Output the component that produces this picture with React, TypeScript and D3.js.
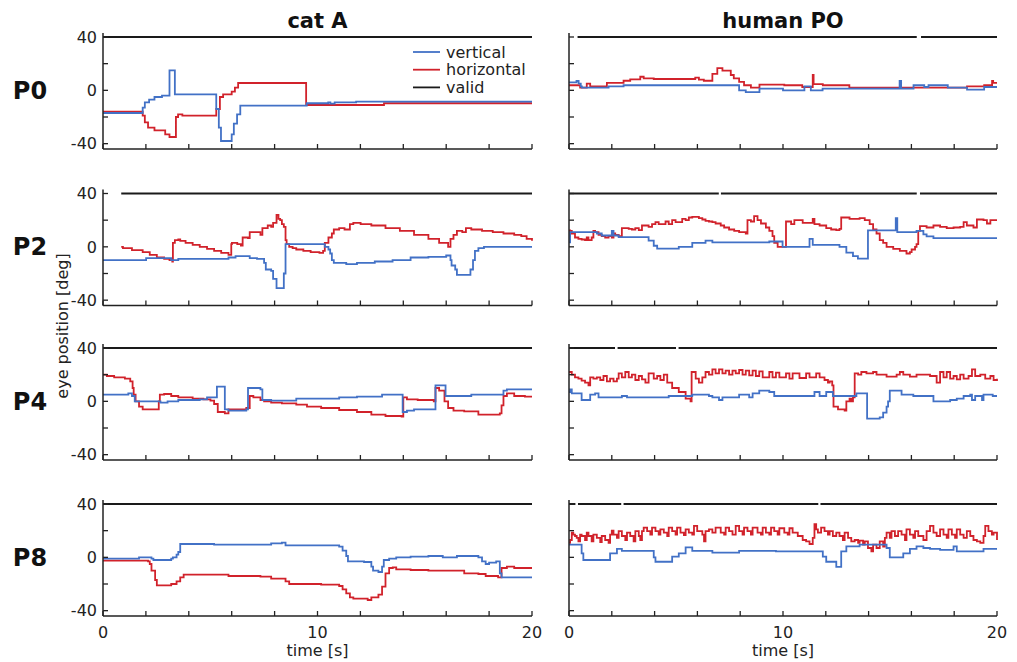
import React, { useEffect, useRef } from 'react';
import * as d3 from 'd3';

type Pt = [number, number];

const COLUMN_TITLES = ['cat A', 'human PO'];
const ROW_LABELS = ['P0', 'P2', 'P4', 'P8'];
const Y_TICKS = [-40, -20, 0, 20, 40];
const Y_TICK_LABELS = [40, 0, -40];
const X_TICKS = [0, 2, 4, 6, 8, 10, 12, 14, 16, 18, 20];
const X_TICK_LABELS = [0, 10, 20];
const LEGEND = [
    { label: 'vertical', color: '#4271c6' },
    { label: 'horizontal', color: '#d1222b' },
    { label: 'valid', color: '#1a1a1a' },
];

// time [s], eye position [deg] (sample and hold, drawn as steps)
const P0_CAT_V: Pt[] = [[0, -17], [1.85, -13], [1.95, -9], [2.15, -7], [2.4, -5], [2.75, -4], [3.1, 15], [3.35, -3], [5.28, -14], [5.4, -28], [5.5, -38], [6.0, -33], [6.1, -25], [6.25, -18], [6.4, -11.5], [9.5, -9.7], [10.5, -9], [10.6, -10], [10.8, -9], [11.8, -8.5], [20, -8.5]];
const P0_CAT_H: Pt[] = [[0, -16], [1.85, -19], [1.95, -24], [2.1, -28], [2.4, -30], [2.9, -33], [3.1, -35], [3.4, -20], [3.5, -18], [3.7, -19], [5.28, -14], [5.45, -5], [5.6, -3], [6.0, -1], [6.15, 2], [6.3, 5.5], [9.47, -11], [13.1, -9.7], [20, -9.7]];
const P0_CAT_VALID: Pt[] = [[0, 20]];

const P0_HUM_V: Pt[] = [[0, 6], [0.35, 7], [0.45, 5], [0.55, 3], [0.6, 2], [1.85, 3], [2.55, 3.8], [7.95, 0], [8.26, -1.3], [8.9, 1.3], [10, 0], [11, 3], [11.3, 0], [11.85, 1.3], [15.45, 7], [15.52, 1.3], [16.1, 3.8], [16.6, 2.5], [16.8, 3.8], [17.7, 2], [18.6, 0.5], [19.4, 2.5], [20, 2.5]];
const P0_HUM_H: Pt[] = [[0, 3.8], [0.52, 2], [0.83, 5], [0.99, 3], [1.77, 5.6], [2.55, 7.2], [2.86, 8.2], [3.33, 10.2], [3.49, 9], [3.96, 8.5], [5.9, 9.5], [6.07, 8], [6.3, 7.2], [6.7, 12.3], [6.93, 16.6], [7.17, 14.8], [7.56, 11.5], [7.7, 9], [7.95, 6.4], [8.18, 3.8], [8.5, 2], [8.9, 4.3], [10.06, 3.8], [10.9, 2.5], [11.39, 11.5], [11.43, 4.6], [11.86, 3.8], [13.1, 2], [18.6, 3], [19.4, 3.8], [19.77, 7], [19.82, 5.6], [20, 5.6]];
const P0_HUM_VALID: Pt[] = [[0.4, 16.25], [16.45, 20]];

const P2_CAT_V: Pt[] = [[0, -10], [2.01, -8.5], [3.18, -10], [3.51, -9], [5.85, -8], [6.18, -7], [6.84, -8.5], [7.18, -9], [7.51, -12], [7.59, -17], [7.84, -18], [7.93, -24], [8.09, -31], [8.43, -20], [8.51, 2], [10.34, 0], [10.51, -2], [10.59, -5], [10.67, -10], [10.76, -12], [11.34, -13], [11.84, -12], [12.67, -11], [13.5, -10], [14.34, -8], [15.17, -7.5], [16, -6.5], [16.2, -10], [16.25, -14], [16.42, -17], [16.5, -21], [17.13, -17], [17.25, -10], [17.34, -3], [17.5, -1], [17.76, 0], [20, 0]];
const P2_CAT_H: Pt[] = [[0.85, 0], [0.93, -1], [1.35, -2.5], [1.85, -4], [2.18, -6], [2.51, -8], [2.85, -9], [3.1, -10], [3.23, -11], [3.26, 3], [3.35, 5], [3.51, 5.5], [3.6, 4.5], [3.85, 3], [4.18, 1.5], [4.51, 0], [4.85, -1.5], [5.18, -3], [5.51, -4.5], [5.85, -6], [5.98, 2], [6.01, 3], [6.26, 2], [6.43, 1], [6.51, 7], [6.76, 6.5], [6.84, 11], [7.34, 9], [7.43, 14], [7.68, 16], [7.84, 15], [7.93, 18], [8.09, 24], [8.18, 21], [8.26, 20], [8.34, 17], [8.43, 15], [8.51, 5], [8.56, 2], [8.68, 0], [8.84, -1], [9.01, -2], [9.34, -3], [9.68, -4], [10.09, -4.5], [10.26, -3], [10.34, 3], [10.51, 7], [10.67, 10], [10.76, 13], [11.01, 14], [11.26, 13], [11.51, 17], [11.67, 18], [12.01, 17], [12.51, 16], [13.17, 14], [13.84, 12], [14.5, 9], [15.17, 6], [15.67, 3], [16.09, 0], [16.2, 6], [16.34, 9], [16.5, 12], [16.75, 11], [16.92, 14], [17.17, 13], [17.67, 12], [18.17, 11], [18.67, 10], [19.17, 9], [19.5, 8], [19.75, 6], [20, 4.5]];
const P2_CAT_VALID: Pt[] = [[0.85, 20]];

const P2_HUM_V: Pt[] = [[0, 3.4], [0.05, 11], [1.3, 10], [1.53, 8.5], [2.0, 12], [2.08, 8.5], [2.32, 7.3], [3.72, 4.7], [3.96, 0.8], [4.12, -1.3], [5.13, 0], [5.76, 3], [6.38, 4.7], [6.7, 3.4], [9.36, 4], [9.98, 0], [11.24, 6], [11.39, 1.5], [12.64, 0], [12.96, -4.4], [13.27, -7], [13.5, -8.8], [13.97, 12.4], [15.27, 21.5], [15.34, 11], [16.24, 12], [16.56, 9.3], [16.71, 7.8], [17.03, 6.5], [20, 6.5]];
const P2_HUM_H: Pt[] = [[0, 12.4], [0.05, 12], [0.13, 10], [0.28, 7], [0.44, 6], [0.59, 5.5], [0.75, 5], [0.83, 7], [0.91, 5], [1.06, 7], [1.14, 12], [1.22, 11], [1.38, 9], [1.53, 8], [1.69, 7], [1.85, 8], [2.0, 7], [2.08, 10], [2.16, 9], [2.32, 8], [2.47, 14], [2.79, 13.5], [2.94, 13], [3.1, 14], [3.26, 12.5], [3.41, 16], [3.72, 15], [3.88, 17], [4.04, 18.5], [4.19, 17], [4.51, 19], [4.66, 17], [4.82, 20], [4.98, 18.5], [5.29, 21], [5.45, 20], [5.6, 22], [5.76, 22.5], [6.07, 21.5], [6.23, 20.5], [6.38, 19.5], [6.54, 19], [6.7, 18.5], [6.85, 17.5], [7.09, 16], [7.25, 14.5], [7.48, 13], [7.72, 12], [7.95, 11], [8.26, 10], [8.34, 20], [8.5, 19], [8.65, 23], [8.81, 20], [8.97, 17.5], [9.2, 14.5], [9.36, 12], [9.51, 8], [9.59, 3], [9.75, 0], [10.14, 19], [10.38, 17], [10.53, 20], [10.92, 18], [11.39, 21], [11.47, 17], [11.71, 16], [12.02, 14], [12.25, 13], [12.49, 12.5], [12.64, 13.5], [12.72, 22], [13.11, 21], [13.58, 21.5], [13.82, 20], [14.05, 17], [14.21, 13], [14.37, 10], [14.52, 5], [14.68, 3], [14.84, 0], [15.15, -1.5], [15.46, -3], [15.77, -5], [15.93, -4], [16.01, -2], [16.17, 0], [16.24, 2], [16.32, 12], [16.4, 15.5], [16.71, 14.5], [17.03, 16], [17.34, 15], [17.65, 14], [17.97, 14.5], [18.28, 15], [18.44, 18.5], [18.59, 16], [18.9, 14.5], [19.06, 20.5], [19.37, 20], [19.53, 17.5], [19.69, 20], [20, 20]];
const P2_HUM_VALID: Pt[] = [[0, 7.0], [7.1, 16.25], [16.4, 20]];

const P4_CAT_V: Pt[] = [[0, 5], [1.18, 6], [1.35, 4], [1.48, 0], [2.68, -1], [3.01, 0], [3.51, 1], [4.51, 1.5], [4.85, 3], [5.31, 11], [5.68, -6], [5.85, -7], [6.68, -6], [6.76, 10], [7.34, 9], [7.43, 1], [7.84, 0.5], [9.01, 2], [11.01, 3], [11.84, 3.5], [13.01, 5], [13.97, -8], [14.17, -7], [14.5, -6], [15.5, 12], [15.97, 4], [17.17, 5], [18.67, 8], [18.83, 9], [20, 9]];
const P4_CAT_H: Pt[] = [[0, 20], [0.18, 19], [0.52, 18], [1.02, 17], [1.27, 15], [1.38, 10], [1.43, 5], [1.52, 0], [1.68, -4], [1.85, -6], [2.6, 0], [2.65, 5], [2.85, 5.5], [3.18, 4], [3.51, 3], [4.18, 2], [4.68, 1.5], [5.01, 0.5], [5.18, -2], [5.35, -8], [5.68, -9], [5.85, -6], [6.68, -5], [6.84, 4], [7.01, 3], [7.34, 1], [7.51, 0], [7.84, -1], [8.34, -1.5], [9.01, -2.5], [9.51, -4], [10.17, -5], [11.01, -6.5], [11.84, -8], [12.51, -10], [13.17, -11], [13.92, -11.5], [14.0, 3], [14.17, 1.5], [14.67, 1], [15.42, 0], [15.5, 10], [15.67, 8], [15.92, 0], [16.09, -5], [16.34, -7], [16.84, -7.5], [17.5, -10], [18.5, -9], [18.58, -3], [18.67, 4], [18.83, 6], [19.17, 4], [19.67, 3.5], [20, 3.5]];
const P4_CAT_VALID: Pt[] = [[0, 20]];

const P4_HUM_V: Pt[] = [[0, 7], [0.05, 9], [0.13, 6], [0.59, 1], [0.99, 5], [1.22, 6], [1.38, 3], [2.47, 4], [2.71, 3], [4.66, 4], [5.76, 5], [6.54, 4], [6.7, 3], [7.01, 1], [7.17, 3], [7.95, 5], [8.42, 3], [8.58, 6], [8.89, 8], [9.36, 7], [9.59, 4], [11.47, 7], [11.71, 4], [12.02, 7], [12.33, 4], [13.43, 6], [13.93, -13], [14.52, -12], [14.68, -8.5], [14.84, -4], [14.91, 0], [14.99, 8], [15.54, 5], [16.09, 4], [17.03, 0], [17.81, 1], [18.12, 2], [18.44, 4], [18.75, 5], [18.83, 1], [18.98, 4], [19.3, 1], [19.37, 5], [19.8, 4], [20, 4]];
const P4_HUM_H: Pt[] = [[0, 22], [0.13, 20], [0.28, 18], [0.44, 17], [0.59, 15.5], [0.75, 14], [0.91, 12], [0.99, 18], [1.14, 17], [1.3, 18], [1.46, 16], [1.61, 19], [1.77, 15], [1.92, 17], [2.08, 15], [2.24, 17], [2.32, 21], [2.47, 18], [2.63, 22], [2.79, 18], [2.94, 20], [3.1, 16], [3.26, 19], [3.41, 16.5], [3.57, 14], [3.72, 21], [3.96, 17], [4.12, 19], [4.27, 16], [4.43, 20], [4.59, 14], [4.82, 10], [5.13, 7], [5.45, 2], [5.68, 0], [5.73, 22], [5.92, 17], [6.07, 14], [6.23, 18], [6.38, 22], [6.54, 20], [6.7, 24], [6.85, 21], [7.01, 24], [7.17, 21], [7.32, 23], [7.48, 20], [7.64, 23], [7.79, 21], [7.95, 23.5], [8.11, 20], [8.26, 23], [8.42, 19.5], [8.58, 23], [8.73, 19], [8.89, 22.5], [9.05, 18], [9.36, 22], [9.51, 18], [9.67, 21.5], [9.83, 18], [10.14, 21], [10.3, 17], [10.45, 21], [10.77, 17.5], [11.08, 21], [11.24, 18], [11.55, 21], [11.71, 18], [11.94, 16], [12.1, 14], [12.18, 15], [12.3, 12], [12.36, -4], [12.57, -6], [12.88, -7], [12.96, 0], [13.11, 2], [13.19, 0], [13.27, 3], [13.35, 21], [13.51, 20], [13.66, 22], [13.9, 21], [14.21, 22], [14.37, 20], [14.84, 18.5], [15.31, 20], [15.46, 22], [15.62, 20], [15.93, 18.5], [16.24, 20], [16.87, 19], [17.18, 14], [17.34, 22], [17.5, 18], [17.65, 22], [17.81, 17], [17.97, 19], [18.12, 16.5], [18.28, 20], [18.44, 17], [18.67, 19], [18.83, 24], [18.98, 19], [19.22, 20], [19.45, 17], [19.69, 19], [19.84, 16], [20, 17]];
const P4_HUM_VALID: Pt[] = [[0, 2.15], [2.27, 5.0], [5.12, 20]];

const P8_CAT_V: Pt[] = [[0, -1], [1.68, 0], [2.26, -1], [2.35, -2], [3.18, -1], [3.26, 0], [3.43, 2], [3.51, 4], [3.6, 10], [5.18, 9.5], [7.84, 10.5], [8.34, 11], [8.51, 9], [11.01, 8], [11.17, 5], [11.34, 1], [11.42, -3], [12.17, -3.5], [12.51, -7], [12.59, -10], [12.84, -11], [13.01, -7], [13.09, -2], [13.34, -1], [13.67, 0], [14.34, 0.5], [15.17, 1], [15.84, 0], [16.5, 1], [17.5, 0], [17.67, -3], [17.84, -5], [18.0, -4], [18.33, -3], [18.5, -12], [18.58, -15], [20, -15]];
const P8_CAT_H: Pt[] = [[0, -2.5], [2.1, -3], [2.18, -5], [2.26, -10], [2.43, -17], [2.51, -21], [3.18, -20], [3.43, -18], [3.6, -15], [3.76, -13], [5.85, -14], [7.34, -14.5], [7.84, -16], [8.51, -18], [8.68, -20], [10.17, -20.5], [11.01, -21.5], [11.17, -24], [11.34, -27], [11.51, -30], [11.67, -31], [12.34, -32], [12.51, -30], [12.84, -28], [13.01, -22], [13.17, -12], [13.34, -8], [13.51, -7.5], [13.67, -9], [14.34, -9.5], [15.17, -10], [16.84, -12], [17.5, -12.5], [17.84, -14], [18.42, -15], [18.58, -8], [18.83, -7], [19.17, -8], [20, -8]];
const P8_CAT_VALID: Pt[] = [[0, 20]];

const P8_HUM_V: Pt[] = [[0, 9.5], [0.59, 3], [0.67, -2], [1.92, 3], [2.24, 6.4], [2.47, 4.9], [3.96, 0], [4.04, -3.3], [4.82, 0.5], [5.13, 3], [5.45, 7.4], [5.76, 4.9], [6.7, 3.6], [7.95, 4.9], [9.67, 4.4], [11.86, 0.5], [12.02, -3.3], [12.49, -7.2], [12.72, 4.4], [12.96, 8.2], [13.58, 9.5], [14.84, 7], [14.99, 0], [15.62, 3], [15.93, 6.4], [16.24, 8.2], [16.56, 7], [16.87, 6.4], [17.34, 5.6], [17.97, 8.2], [18.12, 4.4], [19.37, 6.4], [20, 6.4]];
const P8_HUM_H: Pt[] = [[0, 10.8], [0.05, 13], [0.13, 18.5], [0.2, 17], [0.28, 16], [0.36, 14.6], [0.44, 12], [0.52, 17], [0.59, 16], [0.75, 13], [0.83, 18.5], [0.91, 16], [1.06, 12], [1.14, 17], [1.3, 14.6], [1.46, 11.5], [1.53, 16], [1.69, 13], [1.85, 10.8], [1.92, 17], [2.0, 20], [2.08, 17], [2.24, 14.6], [2.32, 19.7], [2.47, 16], [2.63, 13], [2.71, 18.5], [2.86, 16], [3.02, 12], [3.1, 19.7], [3.26, 16], [3.33, 13], [3.41, 19.7], [3.49, 22.3], [3.65, 19.7], [3.8, 17], [3.88, 22.3], [4.04, 19.7], [4.19, 17], [4.27, 21], [4.43, 18.5], [4.59, 16], [4.66, 22.3], [4.82, 19.7], [4.98, 17], [5.05, 22.3], [5.21, 18.5], [5.37, 16.7], [5.45, 21], [5.6, 18.5], [5.76, 17], [5.84, 23.6], [5.99, 19.7], [6.23, 17], [6.31, 12], [6.38, 19.7], [6.54, 21], [6.7, 18.5], [6.85, 22.3], [7.09, 18.5], [7.25, 17], [7.32, 22.3], [7.48, 19.7], [7.64, 17], [7.79, 23.6], [7.95, 19.7], [8.11, 17], [8.18, 22.3], [8.34, 19.7], [8.5, 17], [8.58, 22.3], [8.81, 18.5], [8.97, 17], [9.05, 22.3], [9.2, 18.5], [9.36, 17], [9.44, 22.3], [9.59, 19.7], [9.75, 17], [9.83, 21.8], [10.06, 18.5], [10.22, 17], [10.3, 21.8], [10.45, 18.5], [10.69, 16], [10.92, 13], [11.08, 12], [11.24, 10], [11.39, 14.6], [11.47, 24.9], [11.55, 21], [11.63, 18.5], [11.78, 22.3], [11.94, 19.7], [12.1, 17], [12.18, 19.7], [12.33, 16], [12.49, 18.5], [12.64, 16], [12.8, 13], [12.88, 18.5], [13.04, 14.6], [13.19, 12], [13.35, 13], [13.51, 10.8], [13.58, 12.5], [13.74, 9.5], [13.82, 12], [13.97, 7], [14.13, 4.4], [14.21, 9.5], [14.37, 7], [14.52, 12], [14.68, 8], [14.76, 14.6], [14.84, 18.5], [14.99, 14.6], [15.07, 19.7], [15.23, 16], [15.38, 19.7], [15.54, 17], [15.7, 13], [15.77, 21], [15.93, 17], [16.09, 14.6], [16.17, 19.7], [16.32, 16], [16.56, 13], [16.71, 19.7], [16.87, 23.6], [17.03, 18.5], [17.18, 16], [17.34, 21], [17.5, 17], [17.65, 14.6], [17.73, 21], [17.89, 17], [18.04, 14.6], [18.12, 21], [18.28, 17], [18.44, 14.6], [18.59, 19.7], [18.75, 16], [18.9, 13], [19.06, 12], [19.22, 10.8], [19.37, 16], [19.45, 23.6], [19.6, 19.7], [19.76, 17], [19.84, 18.5], [20, 13]];
const P8_HUM_VALID: Pt[] = [[0, 0.3], [0.42, 2.44], [2.55, 11.65], [11.75, 20]];

const PANELS = [
    { row: 0, col: 0, v: P0_CAT_V, h: P0_CAT_H, valid: P0_CAT_VALID },
    { row: 0, col: 1, v: P0_HUM_V, h: P0_HUM_H, valid: P0_HUM_VALID },
    { row: 1, col: 0, v: P2_CAT_V, h: P2_CAT_H, valid: P2_CAT_VALID },
    { row: 1, col: 1, v: P2_HUM_V, h: P2_HUM_H, valid: P2_HUM_VALID },
    { row: 2, col: 0, v: P4_CAT_V, h: P4_CAT_H, valid: P4_CAT_VALID },
    { row: 2, col: 1, v: P4_HUM_V, h: P4_HUM_H, valid: P4_HUM_VALID },
    { row: 3, col: 0, v: P8_CAT_V, h: P8_CAT_H, valid: P8_CAT_VALID },
    { row: 3, col: 1, v: P8_HUM_V, h: P8_HUM_H, valid: P8_HUM_VALID },
];

const App = () => {
    const svgRef = useRef<SVGSVGElement>(null);
    const width = 1017;
    const height = 662;

    useEffect(() => {
        const svg = d3.select(svgRef.current);
        svg.selectAll('*').remove();

        const font = "'DejaVu Sans', sans-serif";
        const ink = '#222';
        const colX = [[103, 532], [569, 997]];
        const rowTop = [33, 189.5, 344, 500];
        const rowH = 116;
        const tickLen = 5;

        svg.append('rect').attr('width', width).attr('height', height).attr('fill', '#fff');

        PANELS.forEach(p => {
            const [x0, x1] = colX[p.col];
            const top = rowTop[p.row];
            const x = d3.scaleLinear().domain([0, 20]).range([x0, x1]);
            const y = d3.scaleLinear().domain([-44, 43]).range([top + rowH, top]);
            const g = svg.append('g');

            // valid flag
            g.selectAll('.valid')
                .data(p.valid)
                .enter()
                .append('line')
                .attr('x1', d => x(d[0]))
                .attr('x2', d => x(d[1]))
                .attr('y1', y(40))
                .attr('y2', y(40))
                .attr('stroke', LEGEND[2].color)
                .attr('stroke-width', 2);

            const line = d3.line<Pt>()
                .x(d => x(d[0]))
                .y(d => y(d[1]))
                .curve(d3.curveStepAfter);

            g.append('path')
                .attr('d', line(p.h))
                .attr('fill', 'none')
                .attr('stroke', LEGEND[1].color)
                .attr('stroke-width', 1.8);

            g.append('path')
                .attr('d', line(p.v))
                .attr('fill', 'none')
                .attr('stroke', LEGEND[0].color)
                .attr('stroke-width', 1.8);

            // axes
            g.append('line')
                .attr('x1', x0).attr('x2', x0)
                .attr('y1', y(43)).attr('y2', y(-44))
                .attr('stroke', ink).attr('stroke-width', 1.5);
            g.append('line')
                .attr('x1', x0).attr('x2', x1)
                .attr('y1', y(-44)).attr('y2', y(-44))
                .attr('stroke', ink).attr('stroke-width', 1.5);

            g.selectAll('.ytick')
                .data(Y_TICKS)
                .enter()
                .append('line')
                .attr('x1', x0).attr('x2', x0 + tickLen)
                .attr('y1', d => y(d)).attr('y2', d => y(d))
                .attr('stroke', ink).attr('stroke-width', 1.3);

            g.selectAll('.xtick')
                .data(X_TICKS)
                .enter()
                .append('line')
                .attr('x1', d => x(d)).attr('x2', d => x(d))
                .attr('y1', y(-44)).attr('y2', y(-44) - tickLen)
                .attr('stroke', ink).attr('stroke-width', 1.3);

            if (p.col === 0) {
                g.selectAll('.ylab')
                    .data(Y_TICK_LABELS)
                    .enter()
                    .append('text')
                    .attr('x', x0 - 6)
                    .attr('y', d => y(d))
                    .attr('dy', '0.36em')
                    .attr('text-anchor', 'end')
                    .style('font-family', font)
                    .style('font-size', '16px')
                    .style('fill', ink)
                    .text(d => d);

                g.append('text')
                    .attr('x', 30)
                    .attr('y', y(0))
                    .attr('dy', '0.36em')
                    .attr('text-anchor', 'middle')
                    .style('font-family', font)
                    .style('font-size', '24px')
                    .style('font-weight', 'bold')
                    .style('fill', '#111')
                    .text(ROW_LABELS[p.row]);
            }

            if (p.row === 0) {
                g.append('text')
                    .attr('x', (x0 + x1) / 2)
                    .attr('y', 28)
                    .attr('text-anchor', 'middle')
                    .style('font-family', font)
                    .style('font-size', '21px')
                    .style('font-weight', 'bold')
                    .style('fill', '#111')
                    .text(COLUMN_TITLES[p.col]);
            }

            if (p.row === 3) {
                g.selectAll('.xlab')
                    .data(X_TICK_LABELS)
                    .enter()
                    .append('text')
                    .attr('x', d => x(d))
                    .attr('y', 638)
                    .attr('text-anchor', 'middle')
                    .style('font-family', font)
                    .style('font-size', '16px')
                    .style('fill', ink)
                    .text(d => d);

                g.append('text')
                    .attr('x', (x0 + x1) / 2)
                    .attr('y', 656)
                    .attr('text-anchor', 'middle')
                    .style('font-family', font)
                    .style('font-size', '16px')
                    .style('fill', ink)
                    .text('time [s]');
            }

            if (p.row === 0 && p.col === 0) {
                const lg = g.append('g');
                LEGEND.forEach((item, i) => {
                    const ly = 52 + i * 17.7;
                    lg.append('line')
                        .attr('x1', 413).attr('x2', 440)
                        .attr('y1', ly).attr('y2', ly)
                        .attr('stroke', item.color)
                        .attr('stroke-width', 1.8);
                    lg.append('text')
                        .attr('x', 446)
                        .attr('y', ly)
                        .attr('dy', '0.36em')
                        .style('font-family', font)
                        .style('font-size', '16px')
                        .style('fill', ink)
                        .text(item.label);
                });
            }
        });

        svg.append('text')
            .attr('transform', 'translate(62,326) rotate(-90)')
            .attr('dy', '0.36em')
            .attr('text-anchor', 'middle')
            .style('font-family', font)
            .style('font-size', '16px')
            .style('fill', ink)
            .text('eye position [deg]');
    }, []);

    return (
        <div style={{ position: 'absolute', left: 0, top: 0 }}>
            <svg ref={svgRef} width={width} height={height}></svg>
        </div>
    );
};

export default App;
